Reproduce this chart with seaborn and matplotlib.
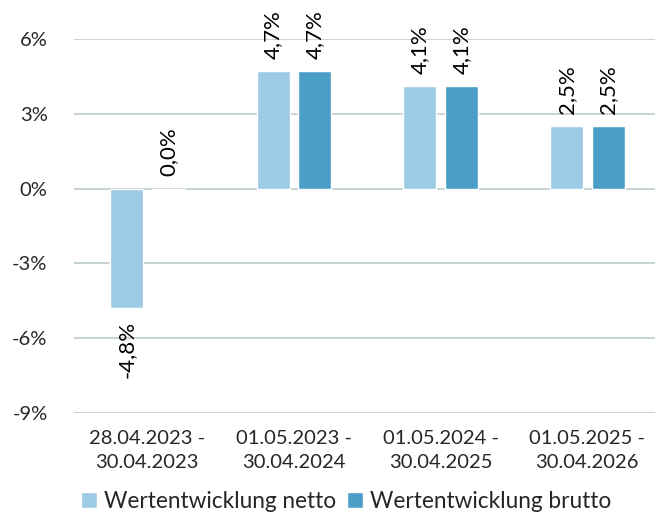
import matplotlib
matplotlib.use("Agg")
import matplotlib.pyplot as plt
import seaborn as sns
import pandas as pd

categories = ["28.04.2023 -\n30.04.2023", "01.05.2023 -\n30.04.2024",
              "01.05.2024 -\n30.04.2025", "01.05.2025 -\n30.04.2026"]
netto = [-4.8, 4.7, 4.1, 2.5]
brutto = [0.0, 4.7, 4.1, 2.5]
series_names = ["Wertentwicklung netto", "Wertentwicklung brutto"]
yticks = [-9, -6, -3, 0, 3, 6]

df = pd.DataFrame({
    "cat": categories * 2,
    "val": netto + brutto,
    "series": [series_names[0]] * 4 + [series_names[1]] * 4,
})

sns.set_theme(style="white")
plt.rcParams['font.family'] = ['Lato', 'DejaVu Sans']

fig = plt.figure(figsize=(6.55, 5.12), dpi=100)
ax = fig.add_axes([74/655, 99/512, 581/655, 374/512])

colors = ["#9dcbe6", "#4b9ec7"]
sns.barplot(data=df, x="cat", y="val", hue="series", palette=colors,
            width=0.566, gap=0.2, ax=ax, legend=True, saturation=1)

for cont, vals in zip(ax.containers, [netto, brutto]):
    labels = [f"{v:.1f}%".replace(".", ",") for v in vals]
    ax.bar_label(cont, labels=labels, rotation=90, padding=9, fontsize=16,
                 color="#000000")

ax.set_ylim(-9, 6)
ax.set_xlim(-0.499, 3.461)
ax.set_yticks(yticks)
ax.set_yticklabels([f"{t}%" for t in yticks], fontsize=14.5)
ax.tick_params(axis="x", labelsize=14.5, pad=12, length=0)
ax.tick_params(axis="y", length=0, pad=19)
for t in ax.get_xticklabels():
    t.set_linespacing(1.5)
ax.yaxis.grid(True, color="#bfcccf", linewidth=1.2)
ax.set_axisbelow(True)
for s in ax.spines.values():
    s.set_visible(False)
ax.set_xlabel("")
ax.set_ylabel("")

h, l = ax.get_legend_handles_labels()
ax.legend_.remove()
fig.legend(h, l, loc="lower center", bbox_to_anchor=(346/655, -0.03), ncol=2,
           frameon=False, fontsize=16.3, handlelength=0.7, handleheight=0.7,
           handletextpad=0.3, columnspacing=0.5, borderpad=0.2)

fig.savefig("out.png", dpi=100)
